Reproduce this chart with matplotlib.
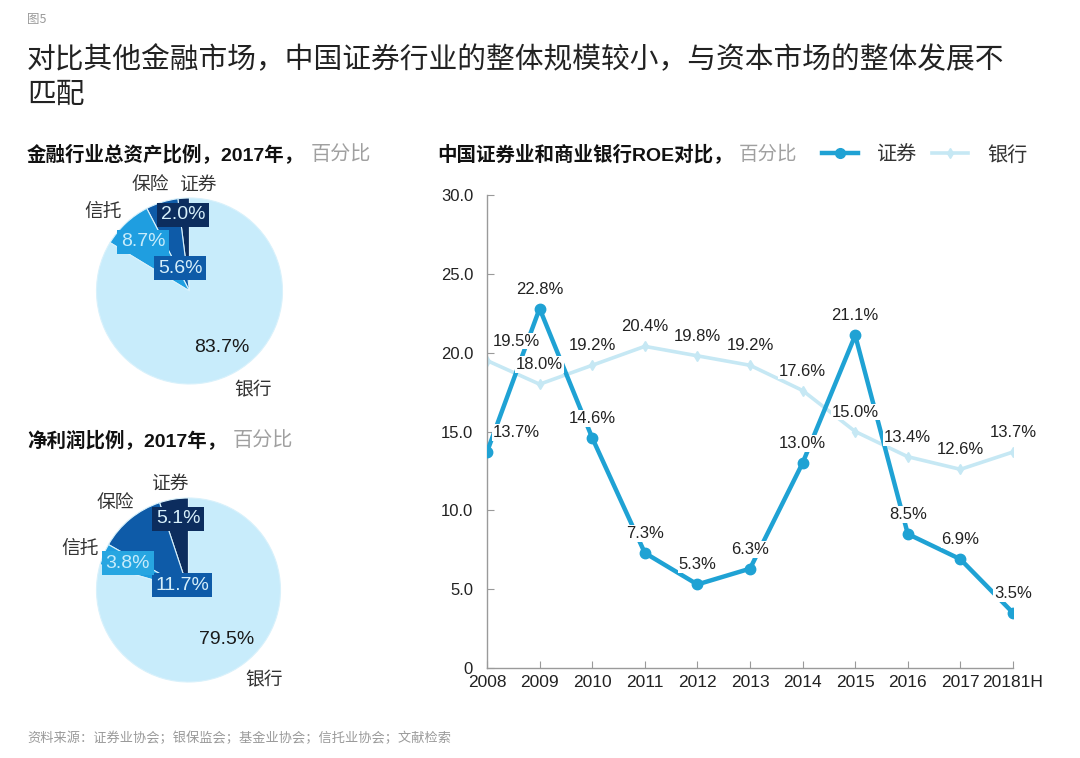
import matplotlib
matplotlib.use("Agg")
import matplotlib.pyplot as plt
from matplotlib.lines import Line2D

plt.rcParams['font.family'] = ['Liberation Sans', 'Noto Sans CJK SC', 'DejaVu Sans']

# ---------------- data ----------------
asset_labels = ['证券', '保险', '信托', '银行']
asset_values = [2.0, 5.6, 8.7, 83.7]

profit_labels = ['证券', '保险', '信托', '银行']
profit_values = [5.1, 11.7, 3.8, 79.5]

years = ['2008', '2009', '2010', '2011', '2012', '2013', '2014', '2015', '2016', '2017', '20181H']
roe_sec = [13.7, 22.8, 14.6, 7.3, 5.3, 6.3, 13.0, 21.1, 8.5, 6.9, 3.5]
roe_bank = [19.5, 18.0, 19.2, 20.4, 19.8, 19.2, 17.6, 15.0, 13.4, 12.6, 13.7]

y_ticks = [0, 5, 10, 15, 20, 25, 30]
y_ticklabels = ['0', '5.0', '10.0', '15.0', '20.0', '25.0', '30.0']

# ---------------- styles ----------------
C_SEC = '#0c2d5e'
C_INS = '#0e5ba8'
C_TRU = '#1f9ee0'
C_BANK = '#c8ecfb'
pie_colors = [C_SEC, C_INS, C_TRU, C_BANK]
LINE_SEC = '#1fa2d4'
LINE_BANK = '#c6e8f4'
GRAY = '#9a9a9a'
DARK = '#222222'

W, H = 1080, 758
fig = plt.figure(figsize=(W / 100, H / 100), dpi=100)
fig.patch.set_facecolor('white')


def fx(px):
    return px / W


def fy(py):
    return 1 - py / H


CJK = ['Noto Sans CJK SC', 'DejaVu Sans']
MIX = ['Liberation Sans', 'Noto Sans CJK SC', 'DejaVu Sans']

# ---------------- header ----------------
fig.text(fx(27), fy(20), '图5', fontsize=9, color=GRAY, family=CJK, va='center')
fig.text(fx(27), fy(60), '对比其他金融市场，中国证券行业的整体规模较小，与资本市场的整体发展不',
         fontsize=20.7, color=DARK, family=CJK, va='center')
fig.text(fx(27), fy(95), '匹配', fontsize=20.7, color=DARK, family=CJK, va='center')
fig.text(fx(27), fy(738), '资料来源：证券业协会；银保监会；基金业协会；信托业协会；文献检索',
         fontsize=9.5, color=GRAY, family=CJK, va='center')

renderer = fig.canvas.get_renderer()


def two_part(xpx, ypx, bold_text, gray_text, size=13.5, gray_size=13.5, gap=6):
    t = fig.text(fx(xpx), fy(ypx), bold_text, fontsize=size, weight='bold',
                 color='#111111', family=MIX, va='center')
    bb = t.get_window_extent(renderer=renderer)
    fig.text(bb.x1 / W + fx(gap), fy(ypx), gray_text, fontsize=gray_size, color='#a0a0a0',
             family=CJK, va='center')


two_part(27, 155, '金融行业总资产比例，2017年，', '百分比', size=14, gray_size=14.5)
two_part(27, 440, '净利润比例，2017年，', '百分比', size=14, gray_size=14.5)
two_part(437, 155, '中国证券业和商业银行ROE对比，', '百分比', size=14, gray_size=14)


# ---------------- pies ----------------
def make_pie(cx, cy, r, values, labels, cat_pos, val_pos, val_styles):
    S = 300
    ax = fig.add_axes([fx(cx - S / 2), fy(cy + S / 2), S / W, S / H])
    ax.pie(values, colors=pie_colors, startangle=90, counterclock=True,
           wedgeprops=dict(edgecolor='#d8f1fb', linewidth=0.8))
    L = (S / 2) / r
    ax.set_xlim(-L, L)
    ax.set_ylim(-L, L)
    ax.set_aspect('equal')
    ax.axis('off')
    for lab, (x, y) in zip(labels, cat_pos):
        ax.text(x, y, lab, fontsize=13.5, color='#333333', family=CJK,
                ha='center', va='center')
    for v, (x, y), (box, tc) in zip(values, val_pos, val_styles):
        kw = {}
        if box is not None:
            kw['bbox'] = dict(facecolor=box, edgecolor='none', pad=2.5)
        ax.text(x, y, f'{v:.1f}%', fontsize=14, color=tc, family=MIX,
                ha='center', va='center', **kw)
    return ax


make_pie(189.5, 291, 93, asset_values, asset_labels,
         cat_pos=[(0.09, 1.15), (-0.42, 1.15), (-0.93, 0.86), (0.68, -1.065)],
         val_pos=[(-0.07, 0.82), (-0.10, 0.247), (-0.50, 0.527), (0.35, -0.61)],
         val_styles=[(C_SEC, '#d6effa'), (C_INS, '#d6effa'), (C_TRU, '#c8ecfb'), (None, '#1a1a1a')])

make_pie(188.5, 590, 92, profit_values, profit_labels,
         cat_pos=[(-0.2, 1.163), (-0.8, 0.946), (-1.18, 0.457), (0.82, -0.98)],
         val_pos=[(-0.114, 0.772), (-0.07, 0.054), (-0.658, 0.293), (0.41, -0.543)],
         val_styles=[(C_SEC, '#d6effa'), (C_INS, '#d6effa'), ('#27a6e1', '#c8ecfb'), (None, '#1a1a1a')])

# ---------------- line chart ----------------
ax = fig.add_axes([fx(487), fy(668), (1013 - 487) / W, (668 - 195) / H])
x = list(range(len(years)))
ax.plot(x, roe_bank, color=LINE_BANK, lw=2.6, marker='d', ms=5, mec=LINE_BANK, mfc=LINE_BANK,
        zorder=2, solid_capstyle='round')
ax.plot(x, roe_sec, color=LINE_SEC, lw=3.2, marker='o', ms=7.5, mec=LINE_SEC, mfc=LINE_SEC,
        zorder=3)

for i, v in enumerate(roe_sec):
    off = (21, 14) if i == 0 else (0, 14)
    ax.annotate(f'{v:.1f}%', (i, v), xytext=off, textcoords='offset points',
                ha='center', va='center', fontsize=12, color=DARK, zorder=5,
                bbox=dict(facecolor='white', edgecolor='none', pad=0.6))
for i, v in enumerate(roe_bank):
    off = (21, 14) if i == 0 else (0, 14)
    ax.annotate(f'{v:.1f}%', (i, v), xytext=off, textcoords='offset points',
                ha='center', va='center', fontsize=12, color=DARK, zorder=4,
                bbox=dict(facecolor='white', edgecolor='none', pad=0.6))

ax.set_xlim(0, len(years) - 1)
ax.set_ylim(0, 30)
ax.set_xticks(x)
ax.set_xticklabels(years)
ax.set_yticks(y_ticks)
ax.set_yticklabels(y_ticklabels)
for s in ['top', 'right']:
    ax.spines[s].set_visible(False)
for s in ['left', 'bottom']:
    ax.spines[s].set_color(GRAY)
    ax.spines[s].set_linewidth(1.0)
ax.tick_params(axis='both', direction='in', length=5, color=GRAY, labelcolor=DARK)
ax.tick_params(axis='y', labelsize=12, pad=10)
ax.tick_params(axis='x', labelsize=12.5, pad=5)
for lab in ax.get_xticklabels() + ax.get_yticklabels():
    lab.set_family(MIX)
for sp in ax.spines.values():
    sp.set_clip_on(False)
ax.set_facecolor('none')

handles = [Line2D([], [], color=LINE_SEC, lw=3.2, marker='o', ms=7),
           Line2D([], [], color=LINE_BANK, lw=2.6, marker='d', ms=5)]
fig.legend(handles, ['证券', '银行'], loc='center left', bbox_to_anchor=(fx(822), fy(155)),
           ncol=2, frameon=False, prop={'family': CJK, 'size': 14.5},
           handlelength=1.8, handletextpad=0.95, columnspacing=0.7,
           borderpad=0, borderaxespad=0, labelcolor='#333333')

fig.savefig('out.png', dpi=100, facecolor='white')
